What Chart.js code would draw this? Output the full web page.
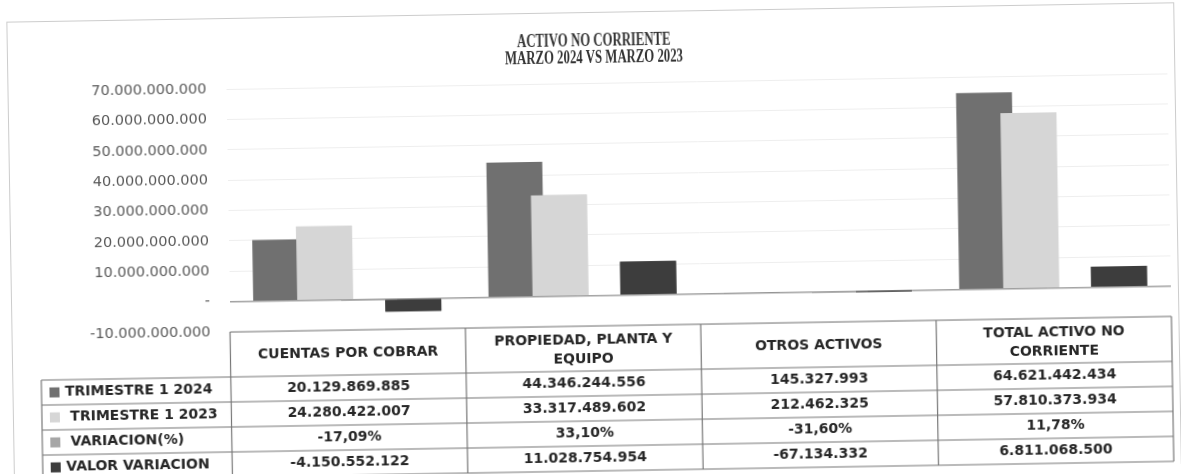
<!DOCTYPE html>
<html>
<head>
<meta charset="utf-8">
<script src="https://cdn.jsdelivr.net/npm/chart.js@4.4.1/dist/chart.umd.min.js"></script>
<style>
html,body{margin:0;padding:0;background:#fff;overflow:hidden;width:1181px;height:474px;}
#wrap{position:absolute;left:0;top:0;width:1181px;height:474px;transform:rotate(-0.95deg);transform-origin:50% 50%;}
canvas{display:block;}
</style>
</head>
<body>
<div id="wrap"><canvas id="c" width="1181" height="474"></canvas></div>
<script>
// ---------- DATA ----------
const titleLines = ['ACTIVO NO CORRIENTE', 'MARZO 2024 VS MARZO 2023'];
const categories = ['CUENTAS POR COBRAR', ['PROPIEDAD, PLANTA Y', 'EQUIPO'], 'OTROS ACTIVOS', ['TOTAL ACTIVO NO', 'CORRIENTE']];
const seriesNames = ['TRIMESTRE 1 2024', ' TRIMESTRE 1 2023', ' VARIACION(%)', 'VALOR VARIACION'];
const trimestre2024 = [20129869885, 44346244556, 145327993, 64621442434];
const trimestre2023 = [24280422007, 33317489602, 212462325, 57810373934];
const variacionPct = [-17.09, 33.10, -31.60, 11.78];
const valorVariacion = [-4150552122, 11028754954, -67134332, 6811068500];
const yTickValues = [-10000000000, 0, 10000000000, 20000000000, 30000000000, 40000000000, 50000000000, 60000000000, 70000000000];

// ---------- STYLE ----------
const seriesColors = ['#707070', '#d6d6d6', '#a6a6a6', '#3d3d3d'];
const seriesData = [trimestre2024, trimestre2023, variacionPct, valorVariacion];

function fmtNum(v) {
  if (v === 0) return '-';
  const s = Math.abs(Math.round(v)).toString().replace(/\B(?=(\d{3})+(?!\d))/g, '.');
  return (v < 0 ? '-' : '') + s;
}
function fmtPct(v) {
  return v.toFixed(2).replace('.', ',') + '%';
}
const tableRows = [
  trimestre2024.map(fmtNum),
  trimestre2023.map(fmtNum),
  variacionPct.map(fmtPct),
  valorVariacion.map(fmtNum)
];

const framePlugin = {
  id: 'frame',
  beforeDraw(chart) {
    const ctx = chart.ctx;
    ctx.save();
    ctx.fillStyle = '#ffffff';
    ctx.fillRect(0, 0, chart.width, chart.height);
    ctx.strokeStyle = '#cccccc';
    ctx.lineWidth = 1;
    ctx.strokeRect(10.5, 12.5, 1167, 480);
    ctx.restore();
  }
};

const titlePlugin = {
  id: 'titleLines',
  afterDraw(chart) {
    const ctx = chart.ctx;
    ctx.save();
    ctx.font = 'bold 18px "Liberation Serif"';
    ctx.fillStyle = '#333333';
    ctx.textAlign = 'center';
    ctx.textBaseline = 'middle';
    const sx = 178 / ctx.measureText(titleLines[1]).width;
    const ys = [41, 58];
    titleLines.forEach((t, i) => {
      ctx.save();
      ctx.translate(597, ys[i]);
      ctx.scale(sx, 1);
      ctx.fillText(t, 0, 0);
      ctx.restore();
    });
    ctx.restore();
  }
};

// Excel draws later series on top of earlier ones when bars overlap
const overlapPlugin = {
  id: 'overlap',
  afterDatasetsDraw(chart) {
    const ctx = chart.ctx;
    ctx.save();
    for (let i = 1; i < chart.data.datasets.length; i++) {
      chart.getDatasetMeta(i).data.forEach(el => el.draw(ctx));
    }
    ctx.restore();
  }
};

const tablePlugin = {
  id: 'dataTable',
  afterDraw(chart) {
    const ctx = chart.ctx;
    const area = chart.chartArea;
    const xs = chart.scales.x;
    const n = categories.length;
    const colW = (area.right - area.left) / n;
    const top = area.bottom;
    const headerH = 45, rowH = 25, legendLeft = 39;
    const bottom = top + headerH + rowH * seriesNames.length;
    ctx.save();
    ctx.strokeStyle = '#777777';
    ctx.lineWidth = 1.2;
    const line = (x1, y1, x2, y2) => { ctx.beginPath(); ctx.moveTo(x1, y1); ctx.lineTo(x2, y2); ctx.stroke(); };
    line(area.left, top, area.right, top);
    for (let r = 0; r <= seriesNames.length; r++) {
      const y = top + headerH + r * rowH;
      line(legendLeft, y, area.right, y);
    }
    for (let i = 0; i <= n; i++) {
      const xx = area.left + i * colW;
      line(xx, top, xx, bottom);
    }
    line(legendLeft, top + headerH, legendLeft, bottom);

    ctx.fillStyle = '#262626';
    ctx.font = 'bold 14px "DejaVu Sans"';
    ctx.textBaseline = 'middle';
    ctx.textAlign = 'center';
    categories.forEach((c, i) => {
      const lines = Array.isArray(c) ? c : [c];
      const cx = xs.getPixelForValue(i);
      const cy = top + headerH / 2 + 1;
      lines.forEach((l, k) => ctx.fillText(l, cx, cy + (k - (lines.length - 1) / 2) * 19));
    });
    tableRows.forEach((row, r) => {
      const cy = top + headerH + r * rowH + rowH / 2;
      row.forEach((txt, i) => ctx.fillText(txt, xs.getPixelForValue(i), cy));
    });
    ctx.textAlign = 'left';
    seriesNames.forEach((name, r) => {
      const cy = top + headerH + r * rowH + rowH / 2;
      ctx.fillStyle = seriesColors[r];
      ctx.fillRect(47, cy - 5, 10, 10);
      ctx.fillStyle = '#262626';
      ctx.fillText(name, 62.5, cy);
    });
    ctx.restore();
  }
};

new Chart(document.getElementById('c'), {
  type: 'bar',
  data: {
    labels: categories,
    datasets: seriesNames.map((name, i) => ({
      label: name,
      data: seriesData[i],
      backgroundColor: seriesColors[i],
      borderWidth: 0,
      categoryPercentage: 0.748,
      barPercentage: 1.27
    }))
  },
  options: {
    responsive: false,
    animation: false,
    devicePixelRatio: 1,
    layout: { padding: { left: 0, right: 11, top: 83, bottom: 148 } },
    plugins: { legend: { display: false }, title: { display: false }, tooltip: { enabled: false } },
    scales: {
      x: { display: false },
      y: {
        min: -10000000000,
        max: 70000000000,
        afterBuildTicks: s => { s.ticks = yTickValues.map(v => ({ value: v })); },
        afterFit: s => { s.width = 228.5; },
        border: { display: false },
        grid: {
          drawTicks: false,
          color: c => (c.tick && c.tick.value === 0) ? '#a0a0a0' : '#eeeeee',
          lineWidth: c => (c.tick && c.tick.value === 0) ? 1.5 : 1
        },
        ticks: {
          padding: 19.5,
          color: '#595959',
          font: { family: 'DejaVu Sans', size: 14.5 },
          callback: v => fmtNum(v)
        }
      }
    }
  },
  plugins: [framePlugin, titlePlugin, overlapPlugin, tablePlugin]
});
</script>
</body>
</html>
